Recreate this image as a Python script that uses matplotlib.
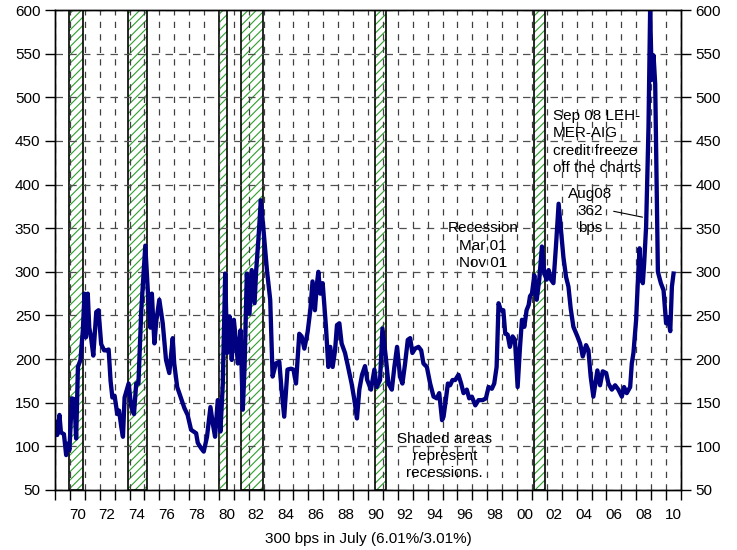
#!/usr/bin/env python3
import matplotlib
matplotlib.use('Agg')
import matplotlib.pyplot as plt
from matplotlib.ticker import FixedLocator, FuncFormatter

plt.rcParams['font.family'] = ['Liberation Sans', 'DejaVu Sans']
plt.rcParams['hatch.linewidth'] = 0.8

# spread in bps (decimal years)
years = [
    1969.08, 1969.15, 1969.3, 1969.4, 1969.6, 1969.75, 1969.85, 1969.97,
    1970.13, 1970.3, 1970.42, 1970.54, 1970.71, 1970.87, 1970.98,
    1971.08, 1971.2, 1971.3, 1971.42, 1971.57, 1971.77, 1971.92,
    1972.1, 1972.3, 1972.45, 1972.6, 1972.73, 1972.85,
    1973.0, 1973.18, 1973.3, 1973.45, 1973.56, 1973.67, 1973.94,
    1974.12, 1974.3, 1974.45, 1974.6, 1974.79,
    1975.06, 1975.24, 1975.4, 1975.5, 1975.67, 1975.8,
    1976.0, 1976.23, 1976.45, 1976.67, 1976.9,
    1977.0, 1977.2, 1977.46, 1977.68, 1977.9,
    1978.13, 1978.47, 1978.58, 1978.8, 1978.98,
    1979.2, 1979.43, 1979.59, 1979.74, 1979.92,
    1980.1, 1980.26, 1980.42, 1980.55, 1980.71, 1980.86,
    1981.0, 1981.16, 1981.27, 1981.45, 1981.6, 1981.72, 1981.87,
    1982.05, 1982.2, 1982.39, 1982.5, 1982.66, 1982.81, 1982.97,
    1983.22, 1983.44, 1983.6, 1983.82,
    1984.05, 1984.2, 1984.38, 1984.6, 1984.83,
    1985.0, 1985.17, 1985.39, 1985.55, 1985.73, 1985.95,
    1986.13, 1986.28, 1986.44, 1986.58, 1986.67, 1986.8, 1986.96,
    1987.18, 1987.34, 1987.47, 1987.63, 1987.79, 1987.92,
    1988.08, 1988.23, 1988.46, 1988.64, 1988.9,
    1989.09, 1989.26, 1989.42, 1989.6, 1989.8, 1989.95,
    1990.2, 1990.43, 1990.59, 1990.81, 1990.97,
    1991.19, 1991.37, 1991.6, 1991.77, 1991.95,
    1992.15, 1992.31, 1992.49, 1992.67, 1992.83, 1992.98,
    1993.16, 1993.39, 1993.57, 1993.72, 1993.95,
    1994.17, 1994.4, 1994.62, 1994.78, 1994.97,
    1995.07, 1995.22, 1995.36, 1995.51, 1995.67, 1995.85,
    1996.07, 1996.25, 1996.41, 1996.63, 1996.79, 1996.97,
    1997.2, 1997.42, 1997.69, 1997.91,
    1998.09, 1998.31, 1998.47, 1998.63, 1998.76, 1998.92,
    1999.08, 1999.21, 1999.37, 1999.52, 1999.7, 1999.86,
    2000.04, 2000.2, 2000.33, 2000.49, 2000.64, 2000.78, 2000.87,
    2001.0, 2001.16, 2001.32, 2001.49, 2001.67, 2001.83, 2001.99,
    2002.12, 2002.28, 2002.44, 2002.61, 2002.79, 2002.95,
    2003.11, 2003.29, 2003.45, 2003.6, 2003.78,
    2004.05, 2004.23, 2004.41, 2004.63, 2004.79, 2004.94,
    2005.12, 2005.39, 2005.57, 2005.75, 2005.98,
    2006.13, 2006.36, 2006.58, 2006.8,
    2007.03, 2007.18, 2007.36, 2007.59, 2007.7, 2007.81, 2007.99,
    2008.1, 2008.22, 2008.31, 2008.44, 2008.53, 2008.66, 2008.82, 2008.93,
    2009.04, 2009.16, 2009.27, 2009.45, 2009.65, 2009.83,
    2010.0, 2010.12, 2010.28, 2010.39, 2010.5,
]
spread = [
    128, 113, 136, 116, 114, 90, 103, 96,
    155, 154, 109, 191, 199, 233, 275,
    225, 275, 236, 225, 204, 254, 256,
    217, 210, 210, 211, 175, 156,
    158, 137, 141, 122, 111, 156, 172,
    145, 137, 172, 172, 256,
    330, 275, 236, 275, 218, 244,
    268, 241, 199, 184, 224,
    195, 168, 155, 144, 136,
    119, 115, 104, 98, 94,
    111, 145, 126, 111, 153,
    117, 172, 298, 207, 249, 199,
    245, 218, 195, 233, 142, 191, 298,
    252, 302, 264, 302, 340, 382, 352,
    302, 268, 180, 195,
    197, 165, 134, 188, 189,
    188, 172, 229, 226, 212, 231,
    256, 289, 256, 287, 300, 275, 287,
    237, 191, 214, 191, 210, 239,
    241, 218, 207, 193, 172,
    153, 132, 165, 182, 192, 176,
    165, 188, 168, 176, 235,
    203, 172, 165, 191, 214,
    180, 172, 195, 222, 224, 207,
    212, 214, 210, 195, 191,
    172, 157, 155, 161, 130,
    134, 153, 172, 170, 176, 176,
    182, 172, 161, 165, 155, 157,
    147, 153, 153, 155,
    168, 166, 172, 191, 264, 256,
    256, 229, 228, 214, 226, 222,
    168, 214, 245, 237, 256, 262, 272,
    275, 296, 268, 291, 329, 298, 291,
    302, 291, 287, 329, 378, 348,
    317, 294, 283, 258, 237,
    226, 218, 203, 216, 210, 180,
    157, 187, 170, 186, 184,
    172, 165, 170, 165,
    157, 168, 161, 168, 195, 207, 245,
    287, 327, 294, 287, 310, 352, 466, 600,
    520, 548, 515, 300, 287, 279,
    241, 248, 232, 283, 298,
]

recession_start = [1969.92, 1973.9, 1980.0, 1981.48, 1990.5, 2001.15]
recession_end = [1970.9, 1975.18, 1980.55, 1982.93, 1991.2, 2001.9]

label_years = list(range(1970, 2011, 2))

fig = plt.figure(figsize=(7.37, 5.5), dpi=100)
ax = fig.add_axes([0.0746, 0.1091, 0.8494, 0.8727])

for s, e in zip(recession_start, recession_end):
    ax.axvspan(s, e, facecolor='white', edgecolor='#2ca02c', hatch='////',
               linewidth=0, zorder=1)
    ax.axvspan(s, e, fill=False, edgecolor='black', linewidth=1.2, zorder=1.1)

ax.plot(years, spread, color='#000080', linewidth=3.1, zorder=3)

ax.set_xlim(1969, 2011)
ax.set_ylim(50, 600)

# year ticks with grid, labels centred inside each year
ax.xaxis.set_major_locator(FixedLocator(range(1969, 2012)))
ax.xaxis.set_major_formatter(FuncFormatter(lambda v, p: ''))
ax.xaxis.set_minor_locator(FixedLocator([y + 0.5 for y in label_years]))
ax.xaxis.set_minor_formatter(FuncFormatter(lambda v, p: '%02d' % (int(v) % 100)))
ax.tick_params(axis='x', which='major', length=7, width=1, direction='out')
ax.tick_params(axis='x', which='minor', length=0, labelsize=11, pad=13)

ax.set_yticks(range(50, 601, 50))
ax.tick_params(axis='y', length=7, width=1, direction='out', labelsize=11)

ax.grid(True, axis='x', which='major', color='#404040', linestyle=(0, (5, 5)), linewidth=0.9)
ax.grid(True, axis='y', color='#505050', linestyle=(0, (6, 5)), linewidth=0.9)

ax2 = ax.twinx()
ax2.set_ylim(50, 600)
ax2.set_yticks(range(50, 601, 50))
ax2.tick_params(axis='y', length=7, width=1, direction='out', labelsize=11)

for a in (ax, ax2):
    for sp in a.spines.values():
        sp.set_linewidth(1.0)
        sp.set_color('black')

ax.set_xlabel('300 bps in July (6.01%/3.01%)', fontsize=11, labelpad=7)

ax.text(2002.4, 487, 'Sep 08 LEH-\nMER-AIG\ncredit freeze\noff the charts',
        fontsize=11, ha='left', va='top', linespacing=1.32, zorder=4)
ax.text(2004.9, 397, 'Aug08\n362\nbps', fontsize=11, ha='center', va='top',
        linespacing=1.25, zorder=4)
ax.annotate('', xy=(2008.6, 362), xytext=(2006.3, 370),
            arrowprops=dict(arrowstyle='-', color='black', linewidth=0.8))
ax.text(1997.7, 358, 'Recession\nMar 01\nNov 01', fontsize=11, ha='center',
        va='top', linespacing=1.3, zorder=4)
ax.text(1995.15, 117, 'Shaded areas\nrepresent\nrecessions.', fontsize=11,
        ha='center', va='top', linespacing=1.3, zorder=4)

fig.savefig('out.png', dpi=100)
